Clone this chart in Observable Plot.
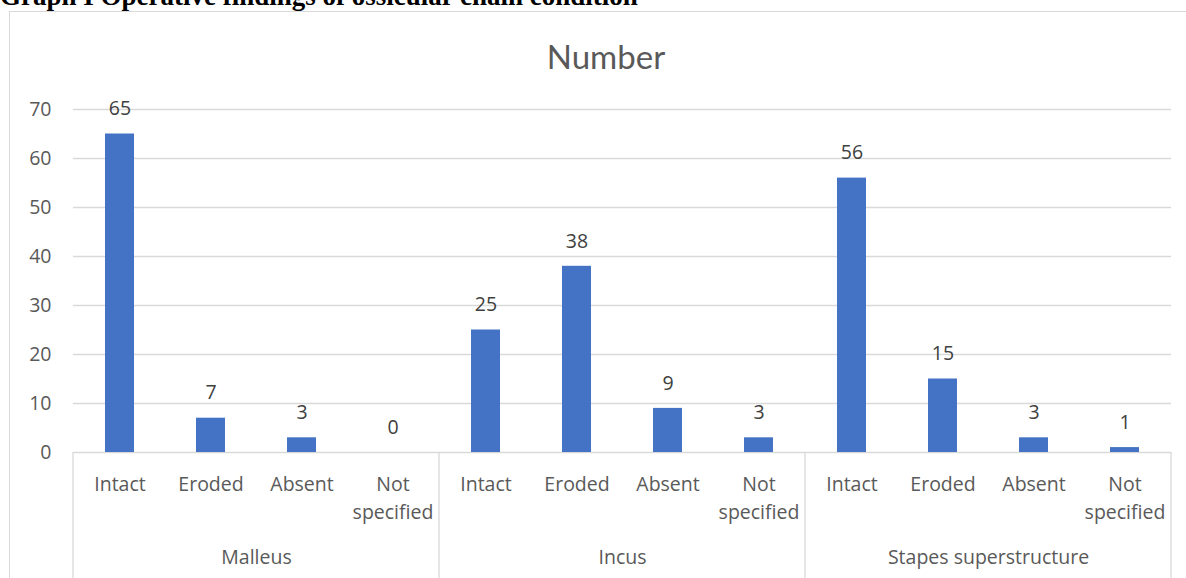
<!DOCTYPE html>
<html>
<head>
<meta charset="utf-8">
<script src="https://cdn.jsdelivr.net/npm/d3@7"></script>
<script src="https://cdn.jsdelivr.net/npm/@observablehq/plot@0.6"></script>
<style>
  body { margin: 0; background: #fff; overflow: hidden; width: 1186px; height: 578px; position: relative; }
  #head { position: absolute; left: 0; top: -17px; font: bold 27px/1 "Liberation Serif", serif; white-space: nowrap; color: #000; }
  #frame { position: absolute; left: 9px; top: 11px; width: 1177px; height: 567px; border-left: 1px solid #d9d9d9; border-top: 1px solid #d9d9d9; box-sizing: border-box; }
  #chart { position: absolute; left: 0; top: 0; }
  #title { position: absolute; left: 0; top: 24px; width: 1192px; text-align: center; font: 33px Lato, sans-serif; color: #595959; }
</style>
</head>
<body>
<div id="head">Graph I Operative findings of ossicular chain condition</div>
<div id="frame"><div id="chart"></div><div id="title">Number</div></div>
<script>
const groups = ["Malleus", "Incus", "Stapes superstructure"];
const categories = ["Intact", "Eroded", "Absent", "Not specified"];
const malleusValues = [65, 7, 3, 0];
const incusValues = [25, 38, 9, 3];
const stapesValues = [56, 15, 3, 1];
const yTicks = [0, 10, 20, 30, 40, 50, 60, 70];

const seriesByGroup = [malleusValues, incusValues, stapesValues];
const data = groups.flatMap((g, i) => categories.map((c, j) => ({group: g, category: c, value: seriesByGroup[i][j]})));

const plot = Plot.plot({
  width: 1176,
  height: 566,
  marginTop: 97,
  marginBottom: 126,
  marginLeft: 63,
  marginRight: 15,
  style: {fontFamily: "'Open Sans', sans-serif", fontSize: "19.5px", color: "#595959", background: "transparent", overflow: "visible"},
  fx: {domain: groups, padding: 0, label: null},
  x: {domain: categories, paddingInner: 0.683, paddingOuter: 0.342, label: null},
  y: {domain: [0, 70], label: null},
  marks: [
    Plot.gridY({ticks: yTicks, stroke: "#d9d9d9", strokeOpacity: 1, strokeWidth: 1.3}),
    Plot.axisY({ticks: yTicks, tickSize: 0, tickPadding: 22, label: null, fill: "#595959"}),
    Plot.barY(data, {fx: "group", x: "category", y: "value", fill: "#4472C4"}),
    Plot.text(data, {fx: "group", x: "category", y: "value", text: d => String(d.value), dy: -25, fill: "#404040"}),
    Plot.axisX({tickSize: 0, tickPadding: 18, lineHeight: 1.46, label: null, fill: "#595959",
      tickFormat: d => d === "Not specified" ? "Not\nspecified" : d}),
    Plot.axisFx({anchor: "bottom", tickSize: 0, tickPadding: 98, label: null, fill: "#595959"})
  ]
});
document.getElementById("chart").appendChild(plot);

// category-group separators, positioned from the plot's own fx / y scales
const fxs = plot.scale("fx");
const band = d3.scaleBand().domain(fxs.domain).range(fxs.range)
  .paddingInner(fxs.paddingInner ?? 0).paddingOuter(fxs.paddingOuter ?? 0).align(fxs.align ?? 0.5);
const y0 = plot.scale("y").apply(0);
const xs = groups.map(g => band(g)).concat([band(groups[groups.length - 1]) + band.bandwidth()]);
d3.select(plot).append("g").attr("stroke", "#d9d9d9").attr("stroke-width", 1.3)
  .selectAll("line").data(xs).join("line")
  .attr("x1", d => d).attr("x2", d => d).attr("y1", y0).attr("y2", 566);
</script>
</body>
</html>
